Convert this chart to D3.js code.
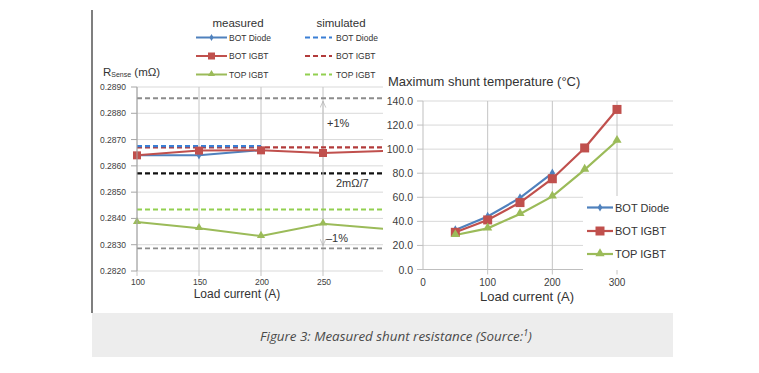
<html>

<head>
    <meta charset="utf-8">
    <title>Measured shunt resistance</title>

    <style>
        body {
            padding: 0;
            margin: 0;
            background: white;
            font-family: "Liberation Sans", Arial, sans-serif;
        }

        .grid {
            stroke: #d9d9d9;
            stroke-width: 1;
        }

        .vgrid {
            stroke: #c4c4c4;
            stroke-width: 1;
        }

        .tick-label {
            fill: #404040;
        }

        .caption {
            font-family: "Open Sans", sans-serif;
            font-style: italic;
            font-size: 13.4px;
            fill: #4a4a4a;
        }
    </style>
</head>

<body>

    <div id="chart"></div>

    <script src="https://d3js.org/d3.v7.min.js"></script>

    <script>
        // ---- left chart: R_sense vs load current ----
        var loadLeft = [100, 150, 200, 250, 300];
        var diodeLoad = [100, 150, 200];
        var diodeRsense = [0.28640, 0.28640, 0.28660];
        var botIgbtRsense = [0.28640, 0.28658, 0.28659, 0.28649, 0.28657];
        var topIgbtRsense = [0.28386, 0.28363, 0.28333, 0.28380, 0.28360];

        // simulated values (flat lines), [from, to, value]
        var simDiode = [100, 200, 0.28675];
        var simBotIgbt = [100, 300, 0.28670];
        var simTopIgbt = [100, 300, 0.28434];

        var nominal = 2 / 7;            // 2mΩ/7
        var plusOne = nominal * 1.01;
        var minusOne = nominal * 0.99;

        var leftYTicks = [0.2820, 0.2830, 0.2840, 0.2850, 0.2860, 0.2870, 0.2880, 0.2890];
        var leftXTicks = [100, 150, 200, 250];

        // ---- right chart: max shunt temperature ----
        var loadRight = [50, 100, 150, 200, 250, 300];
        var diodeTemp = [32.8, 44.0, 59.5, 80.0];
        var botIgbtTemp = [30.9, 41.2, 55.6, 75.4, 101.0, 133.0];
        var topIgbtTemp = [28.7, 34.2, 46.2, 60.7, 83.0, 107.0];

        var rightYTicks = [0, 20, 40, 60, 80, 100, 120, 140];
        var rightXTicks = [0, 100, 200, 300];

        var seriesNames = ["BOT Diode", "BOT IGBT", "TOP IGBT"];
        var colors = ["#4f81bd", "#c0504d", "#9bbb59"];
        var simColors = ["#3a7fd5", "#b23b3b", "#92d050"];

        var width = 759,
            height = 373;

        var svg = d3.select("#chart")
            .append("svg")
            .attr("width", width)
            .attr("height", height);

        // page frame + caption box
        svg.append("line")
            .attr("x1", 92).attr("x2", 92)
            .attr("y1", 10).attr("y2", 313)
            .attr("stroke", "#555")
            .attr("stroke-width", 1.5);

        svg.append("rect")
            .attr("x", 92).attr("y", 313)
            .attr("width", 581).attr("height", 44)
            .attr("fill", "#ededed");

        var cap = svg.append("text")
            .attr("class", "caption")
            .attr("x", 396).attr("y", 341)
            .attr("text-anchor", "middle");
        cap.append("tspan").text("Figure 3: Measured shunt resistance (Source:");
        cap.append("tspan").attr("font-size", "9px").attr("dy", -5).text("1");
        cap.append("tspan").attr("dy", 5).text(")");

        // marker drawing helper; size is roughly the marker width in px
        function marker(g, i, x, y, size) {
            var sym = [d3.symbolDiamond, d3.symbolSquare, d3.symbolTriangle][i];
            var area = [size * size * 0.4, size * size, size * size * 0.45][i];
            var yOff = i == 2 ? -0.5 : 0;
            g.append("path")
                .attr("d", d3.symbol().type(sym).size(area))
                .attr("transform", "translate(" + x + "," + (y + yOff) + ")")
                .attr("fill", colors[i]);
        }

        // ================= LEFT CHART =================
        var xL = d3.scaleLinear().domain([100, 300]).range([137, 385]);
        var yL = d3.scaleLinear().domain([0.2820, 0.2890]).range([271, 87]);
        var leftRight = 383;

        svg.append("clipPath").attr("id", "clipL")
            .append("rect").attr("x", 120).attr("y", 60)
            .attr("width", leftRight - 120).attr("height", 230);

        var gL = svg.append("g");
        var plotL = gL.append("g").attr("clip-path", "url(#clipL)");

        plotL.selectAll(".grid")
            .data(leftYTicks)
            .enter()
            .append("line")
            .attr("class", "grid")
            .attr("x1", xL(100)).attr("x2", leftRight)
            .attr("y1", function (d) { return yL(d); })
            .attr("y2", function (d) { return yL(d); });

        plotL.selectAll(".vgrid")
            .data(leftXTicks)
            .enter()
            .append("line")
            .attr("class", "vgrid")
            .attr("x1", function (d) { return xL(d); })
            .attr("x2", function (d) { return xL(d); })
            .attr("y1", yL(0.2890)).attr("y2", yL(0.2820) + 5);

        // y tick marks
        gL.selectAll(".ytick")
            .data(leftYTicks)
            .enter()
            .append("line")
            .attr("x1", xL(100) - 6).attr("x2", xL(100))
            .attr("y1", function (d) { return yL(d); })
            .attr("y2", function (d) { return yL(d); })
            .attr("stroke", "#a6a6a6");

        gL.selectAll(".ylab")
            .data(leftYTicks)
            .enter()
            .append("text")
            .attr("class", "tick-label")
            .attr("x", 126)
            .attr("y", function (d) { return yL(d) + 3; })
            .attr("text-anchor", "end")
            .attr("font-size", "8.5px")
            .text(function (d) { return d3.format(".4f")(d); });

        gL.selectAll(".xlab")
            .data(leftXTicks)
            .enter()
            .append("text")
            .attr("class", "tick-label")
            .attr("x", function (d) { return xL(d) + 1; })
            .attr("y", 285)
            .attr("text-anchor", "middle")
            .attr("font-size", "8.5px")
            .text(function (d) { return d; });

        gL.append("text")
            .attr("x", 237).attr("y", 298)
            .attr("text-anchor", "middle")
            .attr("font-size", "12px")
            .attr("fill", "#333")
            .text("Load current (A)");

        var rl = gL.append("text")
            .attr("x", 103).attr("y", 76)
            .attr("font-size", "11.5px")
            .attr("fill", "#333");
        rl.append("tspan").text("R");
        rl.append("tspan").attr("font-size", "7px").attr("dy", 1).text("Sense");
        rl.append("tspan").attr("dy", -1).text(" (mΩ)");

        // reference dashed lines
        var refLines = [
            { v: plusOne, c: "#8c8c8c", w: 1.8 },
            { v: minusOne, c: "#8c8c8c", w: 1.8 },
            { v: nominal, c: "#111", w: 2.2 }
        ];
        plotL.selectAll(".ref")
            .data(refLines)
            .enter()
            .append("line")
            .attr("x1", xL(100)).attr("x2", leftRight)
            .attr("y1", function (d) { return yL(d.v); })
            .attr("y2", function (d) { return yL(d.v); })
            .attr("stroke", function (d) { return d.c; })
            .attr("stroke-width", function (d) { return d.w; })
            .attr("stroke-dasharray", "5,3");

        // +/-1% arrow
        var arrowX = xL(250);
        svg.append("defs").append("marker")
            .attr("id", "arr")
            .attr("viewBox", "0 0 10 10")
            .attr("refX", 9).attr("refY", 5)
            .attr("markerWidth", 7).attr("markerHeight", 7)
            .attr("orient", "auto-start-reverse")
            .append("path")
            .attr("d", "M0,1 L9,5 L0,9")
            .attr("fill", "none")
            .attr("stroke", "#b0b0b0")
            .attr("stroke-width", 1);

        plotL.append("line")
            .attr("x1", arrowX).attr("x2", arrowX)
            .attr("y1", yL(plusOne) + 3).attr("y2", yL(minusOne) - 3)
            .attr("stroke", "#c8c8c8")
            .attr("stroke-width", 1)
            .attr("marker-start", "url(#arr)")
            .attr("marker-end", "url(#arr)");

        // simulated flat lines
        var sims = [simBotIgbt, simTopIgbt, simDiode];
        var simIdx = [1, 2, 0];
        sims.forEach(function (s, k) {
            plotL.append("line")
                .attr("x1", xL(s[0])).attr("x2", Math.min(xL(s[1]), leftRight))
                .attr("y1", yL(s[2])).attr("y2", yL(s[2]))
                .attr("stroke", simColors[simIdx[k]])
                .attr("stroke-width", 2.2)
                .attr("stroke-dasharray", "5,3");
        });

        // measured lines
        var lineL = d3.line()
            .x(function (d) { return xL(d[0]); })
            .y(function (d) { return yL(d[1]); });

        var measuredL = [
            d3.zip(diodeLoad, diodeRsense),
            d3.zip(loadLeft, botIgbtRsense),
            d3.zip(loadLeft, topIgbtRsense)
        ];

        measuredL.forEach(function (pts, i) {
            plotL.append("path")
                .attr("d", lineL(pts))
                .attr("fill", "none")
                .attr("stroke", colors[i])
                .attr("stroke-width", 2);
        });
        measuredL.forEach(function (pts, i) {
            pts.forEach(function (p) {
                if (xL(p[0]) < leftRight) marker(plotL, i, xL(p[0]), yL(p[1]), i == 0 ? 7 : 8);
            });
        });

        // left axis line
        gL.append("line")
            .attr("x1", xL(100)).attr("x2", xL(100))
            .attr("y1", yL(0.2890)).attr("y2", yL(0.2820))
            .attr("stroke", "#a6a6a6");

        // annotation labels
        var notes = [
            { t: "+1%", x: 327, y: 127 },
            { t: "2mΩ/7", x: 336, y: 187 },
            { t: "\u20131%", x: 326, y: 242 }
        ];
        gL.selectAll(".note")
            .data(notes)
            .enter()
            .append("text")
            .attr("x", function (d) { return d.x; })
            .attr("y", function (d) { return d.y; })
            .attr("font-size", "11px")
            .attr("fill", "#333")
            .text(function (d) { return d.t; });

        // left legend
        var legL = svg.append("g");
        legL.append("text").attr("x", 238).attr("y", 27)
            .attr("text-anchor", "middle").attr("font-size", "11.5px").attr("fill", "#333")
            .text("measured");
        legL.append("text").attr("x", 341).attr("y", 27)
            .attr("text-anchor", "middle").attr("font-size", "11.5px").attr("fill", "#333")
            .text("simulated");

        var legYs = [37.5, 56, 74.5];
        seriesNames.forEach(function (name, i) {
            var y = legYs[i];
            legL.append("line")
                .attr("x1", 196).attr("x2", 227)
                .attr("y1", y).attr("y2", y)
                .attr("stroke", colors[i]).attr("stroke-width", 2);
            marker(legL, i, 211.5, y, i == 0 ? 6 : 7);
            legL.append("text")
                .attr("x", 229).attr("y", y + 3)
                .attr("font-size", "8.5px").attr("fill", "#333")
                .text(name);

            legL.append("line")
                .attr("x1", 305).attr("x2", 332)
                .attr("y1", y).attr("y2", y)
                .attr("stroke", simColors[i]).attr("stroke-width", 2)
                .attr("stroke-dasharray", "5,3");
            legL.append("text")
                .attr("x", 336).attr("y", y + 3)
                .attr("font-size", "8.5px").attr("fill", "#333")
                .text(name);
        });

        // ================= RIGHT CHART =================
        var xR = d3.scaleLinear().domain([0, 300]).range([423, 617]);
        var yR = d3.scaleLinear().domain([0, 140]).range([269.5, 101]);
        var rightEdge = 673;

        var gR = svg.append("g");

        gR.append("text")
            .attr("x", 388).attr("y", 86)
            .attr("font-size", "13px")
            .attr("fill", "#333")
            .text("Maximum shunt temperature (°C)");

        gR.selectAll(".grid")
            .data(rightYTicks.slice(1))
            .enter()
            .append("line")
            .attr("class", "grid")
            .attr("x1", xR(0)).attr("x2", rightEdge)
            .attr("y1", function (d) { return yR(d); })
            .attr("y2", function (d) { return yR(d); });

        gR.selectAll(".vgrid")
            .data(rightXTicks.slice(1))
            .enter()
            .append("line")
            .attr("class", "vgrid")
            .attr("x1", function (d) { return xR(d); })
            .attr("x2", function (d) { return xR(d); })
            .attr("y1", yR(140)).attr("y2", yR(0) + 5);

        gR.append("line")
            .attr("x1", xR(0)).attr("x2", rightEdge)
            .attr("y1", yR(0)).attr("y2", yR(0))
            .attr("stroke", "#bfbfbf");

        gR.append("line")
            .attr("x1", xR(0)).attr("x2", xR(0))
            .attr("y1", yR(140)).attr("y2", yR(0))
            .attr("stroke", "#bfbfbf");

        gR.selectAll(".ytick")
            .data(rightYTicks)
            .enter()
            .append("line")
            .attr("x1", xR(0) - 6).attr("x2", xR(0))
            .attr("y1", function (d) { return yR(d); })
            .attr("y2", function (d) { return yR(d); })
            .attr("stroke", "#bfbfbf");

        gR.selectAll(".ylab")
            .data(rightYTicks)
            .enter()
            .append("text")
            .attr("class", "tick-label")
            .attr("x", 413)
            .attr("y", function (d) { return yR(d) + 4; })
            .attr("text-anchor", "end")
            .attr("font-size", "10.5px")
            .text(function (d) { return d3.format(".1f")(d); });

        gR.selectAll(".xlab")
            .data(rightXTicks)
            .enter()
            .append("text")
            .attr("class", "tick-label")
            .attr("x", function (d) { return xR(d); })
            .attr("y", 286)
            .attr("text-anchor", "middle")
            .attr("font-size", "10px")
            .text(function (d) { return d; });

        gR.append("text")
            .attr("x", 527).attr("y", 301)
            .attr("text-anchor", "middle")
            .attr("font-size", "13px")
            .attr("fill", "#333")
            .text("Load current (A)");

        var lineR = d3.line()
            .x(function (d) { return xR(d[0]); })
            .y(function (d) { return yR(d[1]); });

        var measuredR = [
            d3.zip(loadRight.slice(0, diodeTemp.length), diodeTemp),
            d3.zip(loadRight, botIgbtTemp),
            d3.zip(loadRight, topIgbtTemp)
        ];

        measuredR.forEach(function (pts, i) {
            gR.append("path")
                .attr("d", lineR(pts))
                .attr("fill", "none")
                .attr("stroke", colors[i])
                .attr("stroke-width", 2.2);
        });
        measuredR.forEach(function (pts, i) {
            pts.forEach(function (p) {
                marker(gR, i, xR(p[0]), yR(p[1]), i == 0 ? 8 : 9);
            });
        });

        // right legend
        var legR = gR.append("g");
        legR.append("rect")
            .attr("x", 583).attr("y", 196)
            .attr("width", rightEdge - 583 + 1).attr("height", 74)
            .attr("fill", "white");

        var legRYs = [207.5, 231, 254];
        seriesNames.forEach(function (name, i) {
            var y = legRYs[i];
            legR.append("line")
                .attr("x1", 587).attr("x2", 613)
                .attr("y1", y).attr("y2", y)
                .attr("stroke", colors[i]).attr("stroke-width", 2.2);
            marker(legR, i, 600, y, i == 0 ? 7 : 9);
            legR.append("text")
                .attr("x", 615).attr("y", y + 4)
                .attr("font-size", "11px").attr("fill", "#333")
                .text(name);
        });
    </script>
</body>

</html>
